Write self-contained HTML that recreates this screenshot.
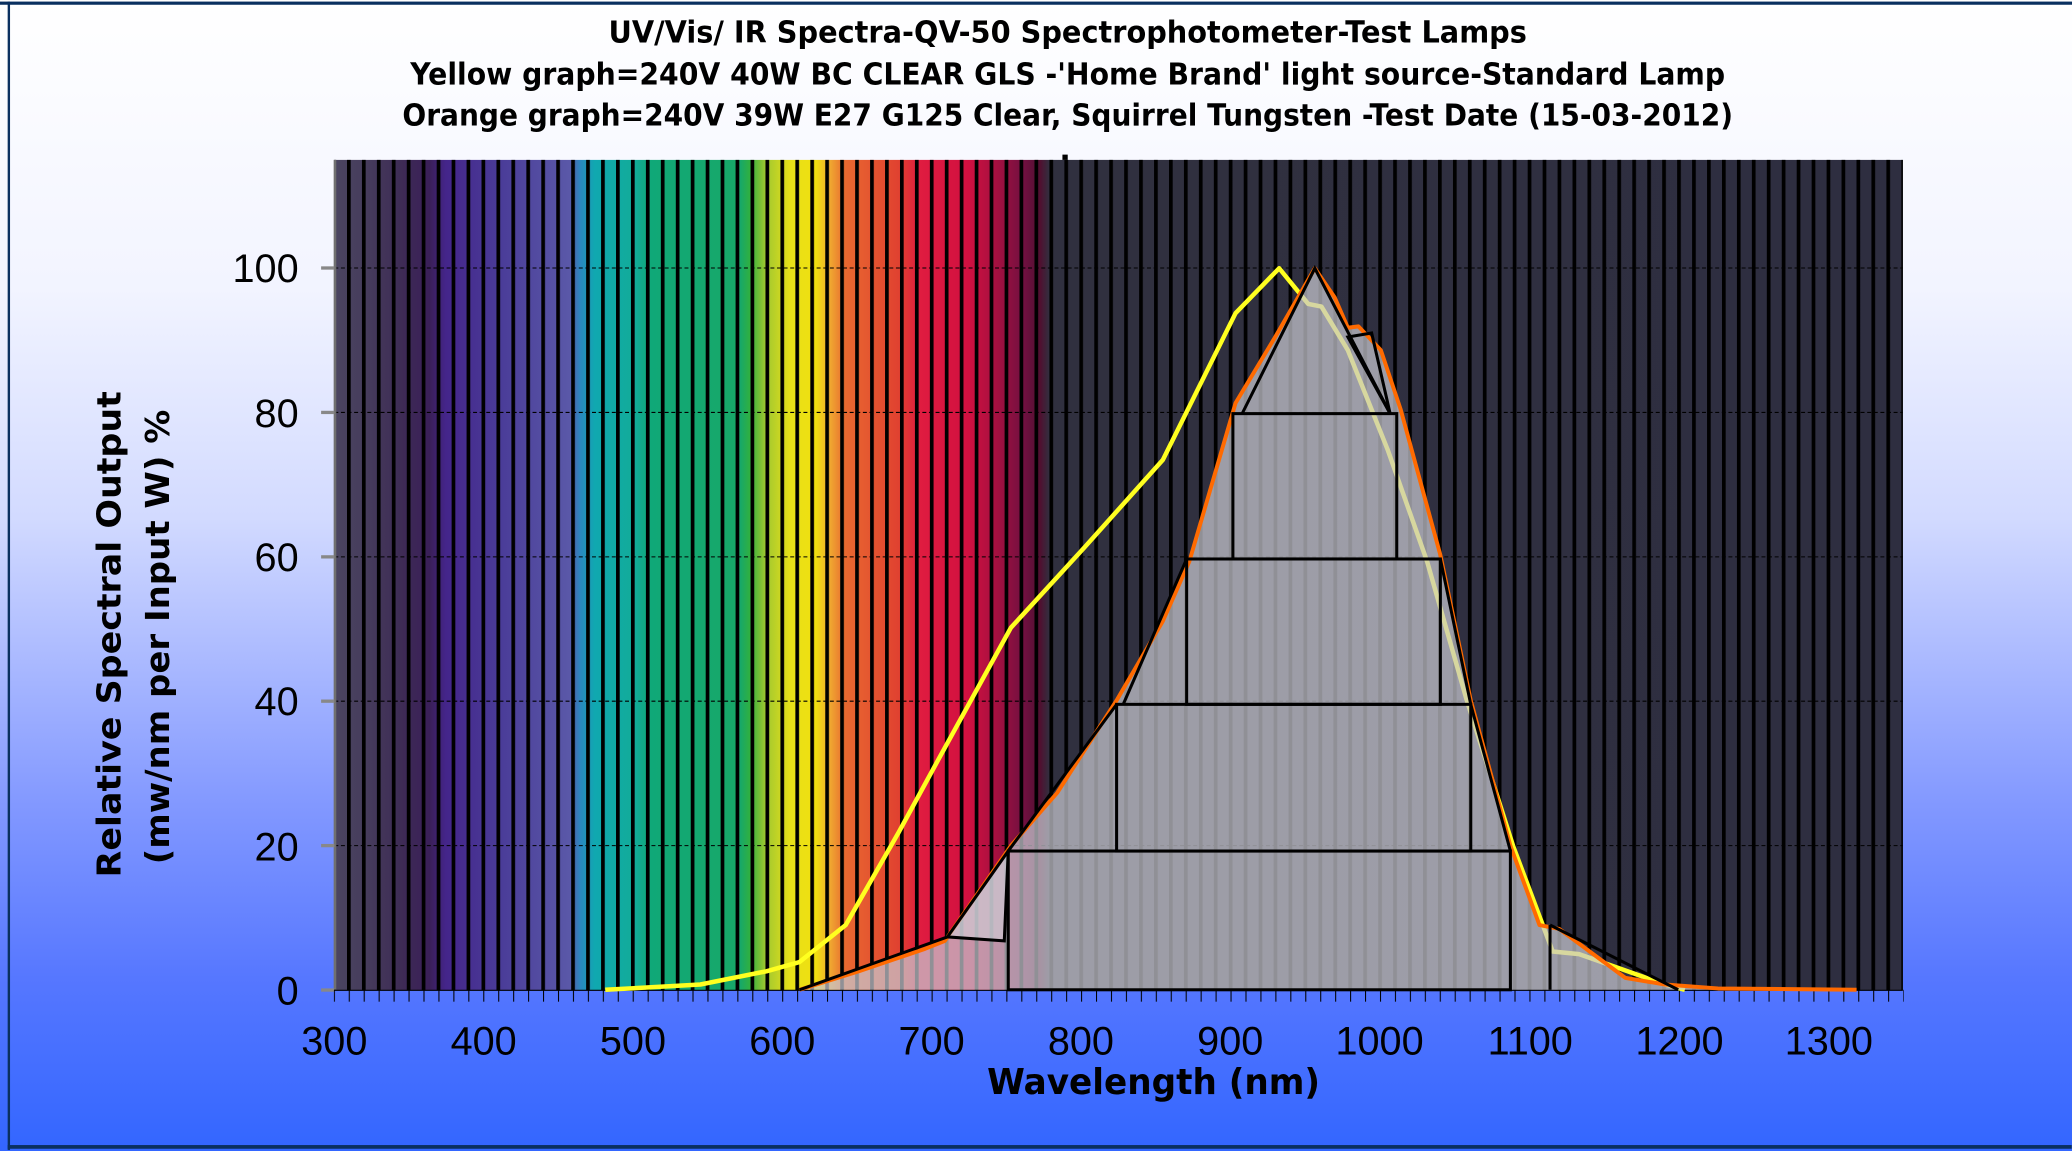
<!DOCTYPE html>
<html><head><meta charset="utf-8"><style>html,body{margin:0;padding:0;overflow:hidden}svg{display:block}</style></head>
<body>
<svg width="2072" height="1151" viewBox="0 0 1568 871" xmlns="http://www.w3.org/2000/svg" preserveAspectRatio="none">
<defs>
<linearGradient id="bg" x1="0" y1="0" x2="0" y2="1">
<stop offset="0" stop-color="#ffffff"/><stop offset="0.25" stop-color="#f2f4ff"/><stop offset="0.45" stop-color="#d2daff"/>
<stop offset="0.7" stop-color="#8298ff"/><stop offset="0.85" stop-color="#5677ff"/><stop offset="1" stop-color="#3366ff"/>
</linearGradient>
<linearGradient id="spec" x1="0" y1="0" x2="1" y2="0">
<stop offset="0" stop-color="#4a4560"/><stop offset=".020" stop-color="#463c5c"/><stop offset=".042" stop-color="#3e2c55"/>
<stop offset=".061" stop-color="#3a1f58"/><stop offset=".071" stop-color="#44258a"/><stop offset=".106" stop-color="#4a3c98"/>
<stop offset=".150" stop-color="#5a58a8"/><stop offset=".157" stop-color="#2a88c0"/><stop offset=".166" stop-color="#10a8b0"/>
<stop offset=".192" stop-color="#12ac98"/><stop offset=".201" stop-color="#10a878"/><stop offset=".259" stop-color="#18a868"/>
<stop offset=".265" stop-color="#30b040"/><stop offset=".275" stop-color="#a0c830"/><stop offset=".291" stop-color="#e8e018"/>
<stop offset=".307" stop-color="#f0e010"/><stop offset=".316" stop-color="#f0a830"/><stop offset=".326" stop-color="#e86830"/>
<stop offset=".361" stop-color="#e04030"/><stop offset=".373" stop-color="#e01c40"/><stop offset=".405" stop-color="#d01040"/>
<stop offset=".424" stop-color="#a01040"/><stop offset=".440" stop-color="#701040"/><stop offset=".450" stop-color="#501030"/>
<stop offset=".456" stop-color="#30303f"/><stop offset="1" stop-color="#2e2e40"/>
</linearGradient>
<pattern id="stripes" patternUnits="userSpaceOnUse" x="262.6" y="0" width="11.31" height="10">
<rect x="0" y="0" width="2.8" height="10" fill="#000"/>
</pattern>
<pattern id="ticks" patternUnits="userSpaceOnUse" x="252.6" y="0" width="11.31" height="20">
<rect x="0" y="0" width="0.8" height="20" fill="#000"/>
</pattern>
</defs>
<rect x="0" y="0" width="1568" height="871" fill="url(#bg)"/>
<rect x="0" y="1.2" width="1568" height="2.4" fill="#0a3060"/>
<rect x="5.8" y="1.2" width="1.8" height="869" fill="#0a3060"/>
<rect x="5.8" y="866.5" width="1562" height="2.8" fill="#0a3060"/>

<g font-family="'DejaVu Sans', 'Liberation Sans', sans-serif" font-weight="bold" font-size="23" text-anchor="middle" fill="#000">
<text x="808" y="32" textLength="695" lengthAdjust="spacingAndGlyphs">UV/Vis/ IR Spectra-QV-50 Spectrophotometer-Test Lamps</text>
<text x="808" y="64" textLength="995" lengthAdjust="spacingAndGlyphs">Yellow graph=240V 40W BC CLEAR GLS -'Home Brand' light source-Standard Lamp</text>
<text x="808" y="95" textLength="1007" lengthAdjust="spacingAndGlyphs">Orange graph=240V 39W E27 G125 Clear, Squirrel Tungsten -Test Date (15-03-2012)</text>
</g>

<rect x="253" y="121" width="1187" height="628.2" fill="url(#spec)"/>
<rect x="253" y="121" width="1187" height="628.2" fill="url(#stripes)"/>
<rect x="804" y="117" width="4" height="4" fill="#000"/>
<g stroke="#000" stroke-width="0.8" stroke-dasharray="3 2">
<line x1="253" y1="202.8" x2="1440" y2="202.8"/><line x1="253" y1="312.1" x2="1440" y2="312.1"/>
<line x1="253" y1="421.4" x2="1440" y2="421.4"/><line x1="253" y1="530.6" x2="1440" y2="530.6"/>
<line x1="253" y1="639.9" x2="1440" y2="639.9"/>
</g>
<line x1="253.5" y1="121" x2="253.5" y2="749" stroke="#707070" stroke-width="2"/>
<g stroke="#888" stroke-width="2.5">
<line x1="243" y1="202.8" x2="253" y2="202.8"/><line x1="243" y1="312.1" x2="253" y2="312.1"/>
<line x1="243" y1="421.4" x2="253" y2="421.4"/><line x1="243" y1="530.6" x2="253" y2="530.6"/>
<line x1="243" y1="639.9" x2="253" y2="639.9"/><line x1="243" y1="749.2" x2="253" y2="749.2"/>
</g>
<rect x="252.6" y="749" width="1188" height="9" fill="url(#ticks)"/>
<line x1="253" y1="749.4" x2="1440" y2="749.4" stroke="#000" stroke-width="0.8"/>

<polyline fill="none" stroke="#ffff20" stroke-width="3.4" stroke-linejoin="round"
points="458,749 530,745 580,735 605,728 640,700 680,630 710,575 765,475 820,415 880,348 935,237 968,203 990,230 1000,232 1020,265 1050,340 1080,425 1110,530 1145,640 1175,720 1195,722 1260,745 1275,749"/>

<polygon fill="#c8c8d0" fill-opacity="0.72"
points="605,749 650,735 700,718 715,712 765,640 800,600 845,530 880,470 900,425 935,305 965,255 995,203 1010,225 1020,248 1028,247 1045,265 1060,310 1090,420 1113,530 1143,640 1165,700 1180,703 1230,740 1260,745 1300,748 1300,749"/>

<polyline fill="none" stroke="#ff6a00" stroke-width="3" stroke-linejoin="round"
points="605,749 650,735 700,718 715,712 765,640 800,600 845,530 880,470 900,425 935,305 965,255 995,203 1010,225 1020,248 1028,247 1045,265 1060,310 1090,420 1113,530 1143,640 1165,700 1180,703 1230,740 1260,745 1300,748 1405,749"/>

<g fill="none" stroke="#000" stroke-width="2.3" stroke-linejoin="miter">
<rect x="763" y="644" width="380" height="105"/>
<rect x="845" y="533" width="268" height="111"/>
<rect x="898" y="423" width="192" height="110"/>
<rect x="933" y="313" width="124" height="110"/>
<polyline points="940,313 995,203 1052,313"/>
<line x1="763" y1="644" x2="845" y2="533"/>
<line x1="850" y1="533" x2="898" y2="423"/>
<line x1="1143" y1="644" x2="1113" y2="533"/>
<line x1="1113" y1="533" x2="1090" y2="423"/>
<polygon points="717,709 763,644 760,712" fill="#d0d0d8" fill-opacity="0.6"/>
<line x1="605" y1="749" x2="717" y2="709"/>
<polygon points="1020,255 1038,252 1052,313"/>
<line x1="1173" y1="700" x2="1173" y2="749"/>
<line x1="1173" y1="700" x2="1270" y2="749"/>
</g>

<g font-family="'Liberation Sans', sans-serif" font-size="30" fill="#000">
<g text-anchor="end">
<text x="226" y="213.5">100</text><text x="226" y="323">80</text><text x="226" y="432">60</text>
<text x="226" y="541">40</text><text x="226" y="651">20</text><text x="226" y="760">0</text>
</g>
<g text-anchor="middle">
<text x="253" y="798">300</text><text x="366" y="798">400</text><text x="479" y="798">500</text>
<text x="592" y="798">600</text><text x="705" y="798">700</text><text x="818" y="798">800</text>
<text x="931" y="798">900</text><text x="1044" y="798">1000</text><text x="1158" y="798">1100</text>
<text x="1271" y="798">1200</text><text x="1384" y="798">1300</text>
</g>
</g>
<text x="873" y="828" text-anchor="middle" font-family="'DejaVu Sans', 'Liberation Sans', sans-serif" font-weight="bold" font-size="27" textLength="252" lengthAdjust="spacingAndGlyphs">Wavelength (nm)</text>
<g font-family="'DejaVu Sans', 'Liberation Sans', sans-serif" font-weight="bold" font-size="25" text-anchor="middle">
<text transform="translate(91,480) rotate(-90)" textLength="368" lengthAdjust="spacingAndGlyphs">Relative Spectral Output</text>
<text transform="translate(128,482) rotate(-90)" textLength="344" lengthAdjust="spacingAndGlyphs">(mw/nm per Input W) %</text>
</g>
</svg>
</body></html>
